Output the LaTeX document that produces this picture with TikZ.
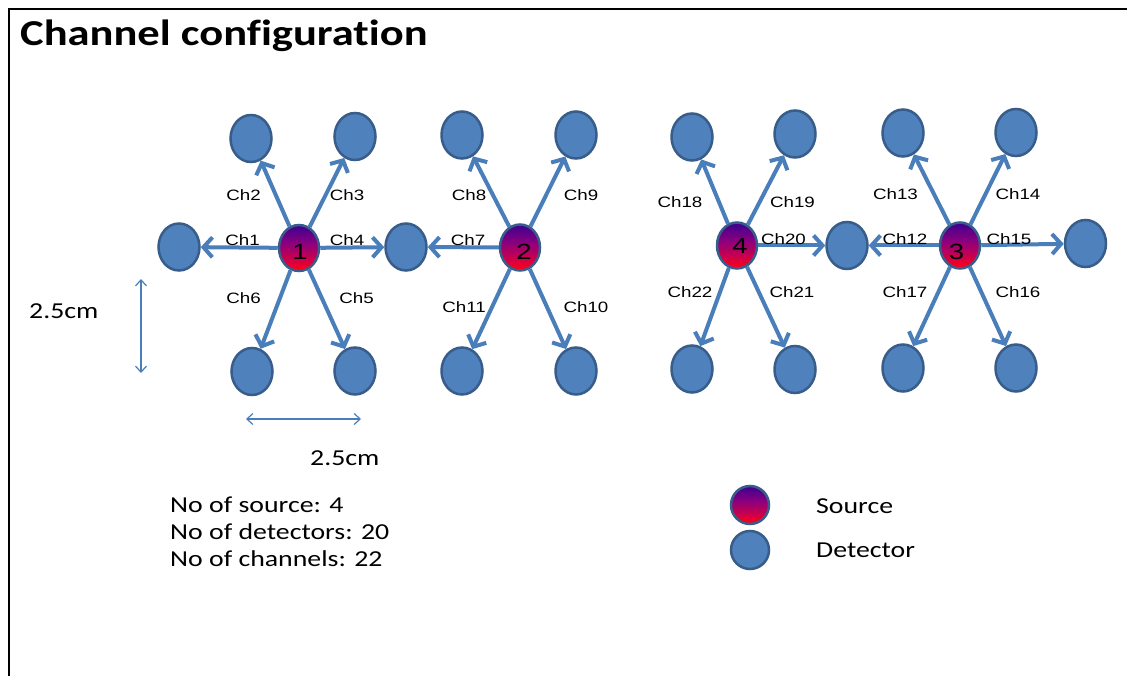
\documentclass[tikz,border=0pt]{standalone}
\usepackage{fontspec}
\usetikzlibrary{shapes.geometric,arrows.meta}
\newfontfamily\calfont[FakeStretch=1.22,Ligatures=NoCommon]{Carlito}
\newfontfamily\arfont[FakeStretch=1.25]{Liberation Sans}
\definecolor{detfill}{RGB}{79,129,189}
\definecolor{detline}{RGB}{56,93,138}
\definecolor{arrowblue}{RGB}{74,126,187}
\definecolor{srcA}{RGB}{255,110,0}
\definecolor{srcB}{RGB}{255,0,20}
\definecolor{srcC}{RGB}{205,0,75}
\definecolor{srcD}{RGB}{140,0,125}
\definecolor{srcE}{RGB}{60,0,145}
% source fill: indigo on top, through magenta, to red with an orange rim at the bottom
\pgfdeclareverticalshading{srcshade}{100bp}{color(0bp)=(srcA); color(25bp)=(srcA); color(26.5bp)=(srcB); color(38bp)=(srcC); color(55bp)=(srcD); color(75bp)=(srcE); color(100bp)=(srcE)}
\tikzset{
  det/.style={ellipse, draw=detline, line width=2.5pt, fill=detfill,
    minimum width=41pt, minimum height=47pt, inner sep=0pt},
  src/.style={ellipse, draw=detline, line width=2.5pt, shading=srcshade,
    minimum width=40pt, minimum height=46pt, inner sep=0pt},
  chan/.style={draw=arrowblue, line width=4pt,
    -{Straight Barb[length=9pt,width=20pt]}},
  dim/.style={draw=arrowblue, line width=1.2pt,
    {Straight Barb[length=6pt,width=11pt]}-{Straight Barb[length=6pt,width=11pt]}},
  lab/.style={font=\arfont\fontsize{15}{18}\selectfont, inner sep=0pt, anchor=center},
  num/.style={font=\arfont\fontsize{22}{25}\selectfont, inner sep=0pt, anchor=center},
  txt/.style={font=\calfont\fontsize{22.8}{27}\selectfont, inner sep=0pt, anchor=base west},
}
\begin{document}
\begin{tikzpicture}[x=1pt,y=-1pt]
\useasboundingbox (0,0) rectangle (1127,676);
\fill[white] (0,0) rectangle (1127,676);
% frame
\draw[line width=2.5pt] (9,676) -- (9,9) -- (1127,9);
\node[font=\calfont\bfseries\fontsize{36.5}{42}\selectfont, inner sep=0pt, anchor=base west] (title) at (20,46) {Channel configuration};

% sources
\node[src] (s1) at (299,248) {};
\node[src] (s2) at (520,247.5) {};
\node[src] (s4) at (737,245.5) {};
\node[src] (s3) at (960,245.5) {};
\node[num] (n1) at (300,251.5) {1};
\node[num] (n2) at (524,252) {2};
\node[num] (n4) at (740,245.5) {4};
\node[num] (n3) at (956.5,251.5) {3};

% detectors around source 1
\node[det] (d1) at (179,247) {};
\node[det] (d2) at (251,138.5) {};
\node[det] (d3) at (355,136.5) {};
\node[det] (d4) at (406,247) {};
\node[det] (d5) at (355,371) {};
\node[det] (d6) at (252,371.5) {};
% detectors around source 2
\node[det] (d8) at (462,135) {};
\node[det] (d9) at (576,135) {};
\node[det] (d10) at (576,371) {};
\node[det] (d11) at (462,371) {};
% detectors around source 4
\node[det] (d18) at (692,137) {};
\node[det] (d19) at (795,134) {};
\node[det] (d20) at (847,245.5) {};
\node[det] (d21) at (795,369.5) {};
\node[det] (d22) at (692,369) {};
% detectors around source 3
\node[det] (d13) at (903,133) {};
\node[det] (d14) at (1016,132.5) {};
\node[det] (d15) at (1085.5,243.5) {};
\node[det] (d16) at (1016,368) {};
\node[det] (d17) at (903,368) {};

% channels
\draw[chan] (s1) -- (d1);
\draw[chan] (s1) -- (d2);
\draw[chan] (s1) -- (d3);
\draw[chan] (s1) -- (d4);
\draw[chan] (s1) -- (d5);
\draw[chan] (s1) -- (d6);
\draw[chan] (s2) -- (d4);
\draw[chan] (s2) -- (d8);
\draw[chan] (s2) -- (d9);
\draw[chan] (s2) -- (d10);
\draw[chan] (s2) -- (d11);
\draw[chan] (s3) -- (d20);
\draw[chan] (s3) -- (d13);
\draw[chan] (s3) -- (d14);
\draw[chan] (s3) -- (d15);
\draw[chan] (s3) -- (d16);
\draw[chan] (s3) -- (d17);
\draw[chan] (s4) -- (d18);
\draw[chan] (s4) -- (d19);
\draw[chan] (s4) -- (d20);
\draw[chan] (s4) -- (d21);
\draw[chan] (s4) -- (d22);

% channel labels
\node[lab] (l1) at (242.5,240.5) {Ch1};
\node[lab] (l2) at (243.5,195) {Ch2};
\node[lab] (l3) at (347,195) {Ch3};
\node[lab] (l4) at (347,240.5) {Ch4};
\node[lab] (l5) at (356.5,298.5) {Ch5};
\node[lab] (l6) at (243.5,298.5) {Ch6};
\node[lab] (l7) at (468,240.5) {Ch7};
\node[lab] (l8) at (469,195) {Ch8};
\node[lab] (l9) at (581,195) {Ch9};
\node[lab] (l10) at (586,307) {Ch10};
\node[lab] (l11) at (464,307) {Ch11};
\node[lab] (l12) at (905,239.5) {Ch12};
\node[lab] (l13) at (895.5,194.5) {Ch13};
\node[lab] (l14) at (1018,194.5) {Ch14};
\node[lab] (l15) at (1009,239.5) {Ch15};
\node[lab] (l16) at (1018,292) {Ch16};
\node[lab] (l17) at (905,292) {Ch17};
\node[lab] (l18) at (680,202.5) {Ch18};
\node[lab] (l19) at (792.5,202.5) {Ch19};
\node[lab] (l20) at (783.5,239.5) {Ch20};
\node[lab] (l21) at (792,292) {Ch21};
\node[lab] (l22) at (690,292) {Ch22};

% spacing dimensions
\coordinate (vt) at (141,279);
\coordinate (vb) at (141,373);
\draw[dim] (vt) -- (vb);
\coordinate (hl) at (246,419);
\coordinate (hr) at (361,419);
\draw[dim] (hl) -- (hr);
\node[txt] (dv) at (29,319) {2.5cm};
\node[txt] (dh) at (310,465) {2.5cm};

% summary
\node[txt] (t1) at (170,512) {No of source: 4};
\node[txt] (t2) at (170,539) {No of detectors: 20};
\node[txt] (t3) at (170,566) {No of channels: 22};

% legend
\node[src, minimum width=38pt, minimum height=38pt] (ls) at (750,505) {};
\node[det, minimum width=38pt, minimum height=38pt] (ld) at (750,550) {};
\node[txt] (lts) at (816,513) {Source};
\node[txt] (ltd) at (816,557) {Detector};
\end{tikzpicture}
\end{document}
